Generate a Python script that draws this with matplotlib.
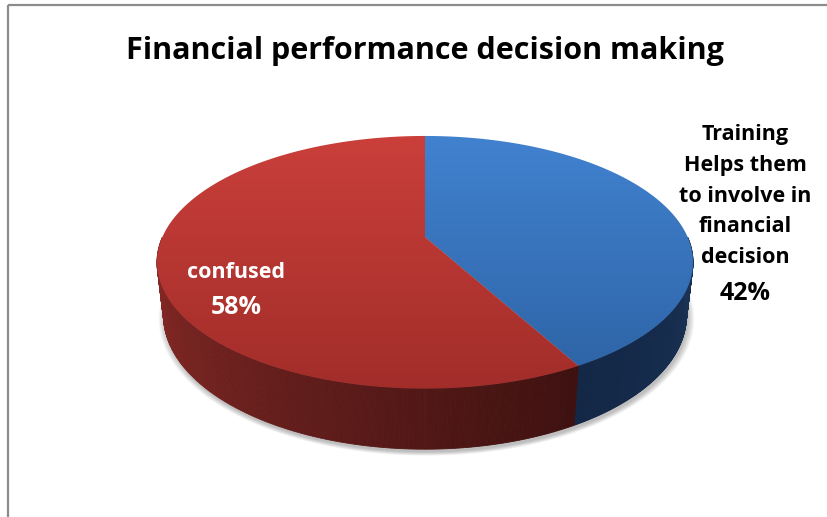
import numpy as np
import matplotlib.pyplot as plt
from matplotlib.patches import Polygon, Rectangle
from matplotlib.colors import to_rgb

# chart data
title = 'Financial performance decision making'
labels = ['Training\nHelps them\nto involve in\nfinancial\ndecision', 'confused']
shares = [42, 58]

# top face gradient (upper, lower) and front side shading (left end, right end)
top_colors = [('#4283d1', '#2c61a2'), ('#cc403b', '#a02c29')]
side_colors = [('#132746', '#1b3457'), ('#8f2c28', '#3d1110')]
label_colors = ['black', 'white']
# (x, name centre y, percent centre y)
label_pos = [(745, 196, 293), (236, 272, 308)]

# perspective setup for the 3-D pie
ELEV = np.radians(27.5)
DIST = 5.0 * np.cos(ELEV)
THICK = 0.23
CX, CY = 425, 237
HALF_W = 268


def depth_of(X, Y, Z):
    return DIST + Y * np.cos(ELEV) - Z * np.sin(ELEV)


_t = np.linspace(0, 2 * np.pi, 2000)
FOCAL = HALF_W / np.max(np.cos(_t) / depth_of(np.cos(_t), np.sin(_t), 0.0))


def project(theta, z=0.0, r=1.0):
    X = r * np.cos(theta)
    Y = r * np.sin(theta)
    d = depth_of(X, Y, z)
    up = Y * np.sin(ELEV) + z * np.cos(ELEV)
    return np.column_stack([CX + FOCAL * X / d, CY - FOCAL * up / d])


def mix(c1, c2, t):
    a, b = np.array(to_rgb(c1)), np.array(to_rgb(c2))
    return tuple(a + (b - a) * t)


fig = plt.figure(figsize=(8.28, 5.17), dpi=100)
ax = fig.add_axes([0, 0, 1, 1])

# wedge angles, clockwise from twelve o'clock
fracs = np.array(shares) / np.sum(shares)
starts = np.pi / 2 - 2 * np.pi * np.concatenate([[0], np.cumsum(fracs)[:-1]])
ends = starts - 2 * np.pi * fracs

# soft shadow under the pie
full = np.linspace(0, 2 * np.pi, 400)
base = project(full, -THICK)
bc = base.mean(axis=0)
for k in range(7):
    grow = 1 + 0.004 * k
    pts = (base - bc) * grow + bc + np.array([1.5, 3.0])
    ax.add_patch(Polygon(pts, closed=True, facecolor='black', edgecolor='none',
                         alpha=0.04, zorder=1))

# front sides (theta in [-pi, 0]), drawn as thin shaded bands
for i in range(len(shares)):
    for k in range(-2, 3):
        seg_lo = max(ends[i] + 2 * np.pi * k, -np.pi)
        seg_hi = min(starts[i] + 2 * np.pi * k, 0.0)
        if seg_hi <= seg_lo:
            continue
        th = np.linspace(seg_lo, seg_hi, 240)
        for j in range(len(th) - 1):
            t = (th[j] - seg_lo) / (seg_hi - seg_lo)
            col = mix(side_colors[i][0], side_colors[i][1], t)
            top = project(np.array([th[j], th[j + 1]]))
            bot = project(np.array([th[j + 1], th[j]]), -THICK)
            ax.add_patch(Polygon(np.vstack([top, bot]), closed=True, facecolor=col,
                                 edgecolor=col, lw=0.6, zorder=2))

# top faces with vertical gradient
ylo, yhi = 125, 400
rows = np.linspace(0, 1, 200)
for i in range(len(shares)):
    th = np.linspace(starts[i], ends[i], 300)
    rim = project(th)
    pts = np.vstack([[CX, CY], rim])
    poly = Polygon(pts, closed=True, facecolor='none', edgecolor='none', zorder=3)
    ax.add_patch(poly)
    grad = np.array([mix(top_colors[i][0], top_colors[i][1], r) for r in rows])
    img = np.repeat(grad[:, None, :], 2, axis=1)
    im = ax.imshow(img, extent=(140, 710, yhi, ylo), origin='upper',
                   aspect='auto', interpolation='bilinear', zorder=3)
    im.set_clip_path(poly)

# data labels: category name, then the percentage a little larger
for i in range(len(shares)):
    x, y_name, y_pct = label_pos[i]
    ax.text(x, y_name, labels[i], ha='center', va='center', fontsize=15.5,
            fontweight='bold', family='Open Sans', color=label_colors[i],
            linespacing=1.62, zorder=5)
    ax.text(x, y_pct, f'{shares[i]}%', ha='center', va='center', fontsize=18,
            fontweight='bold', family='Open Sans', color=label_colors[i],
            zorder=5)

ax.text(425, 51, title, ha='center', va='center', fontsize=22,
        fontweight='bold', family='Open Sans', color='black')

# chart area border
ax.add_patch(Rectangle((8, 5), 900, 600, fill=False, edgecolor='#8c8c8c', lw=1.6))

ax.set_xlim(0, 828)
ax.set_ylim(517, 0)
ax.axis('off')
fig.savefig('out.png', dpi=100, facecolor='white')
